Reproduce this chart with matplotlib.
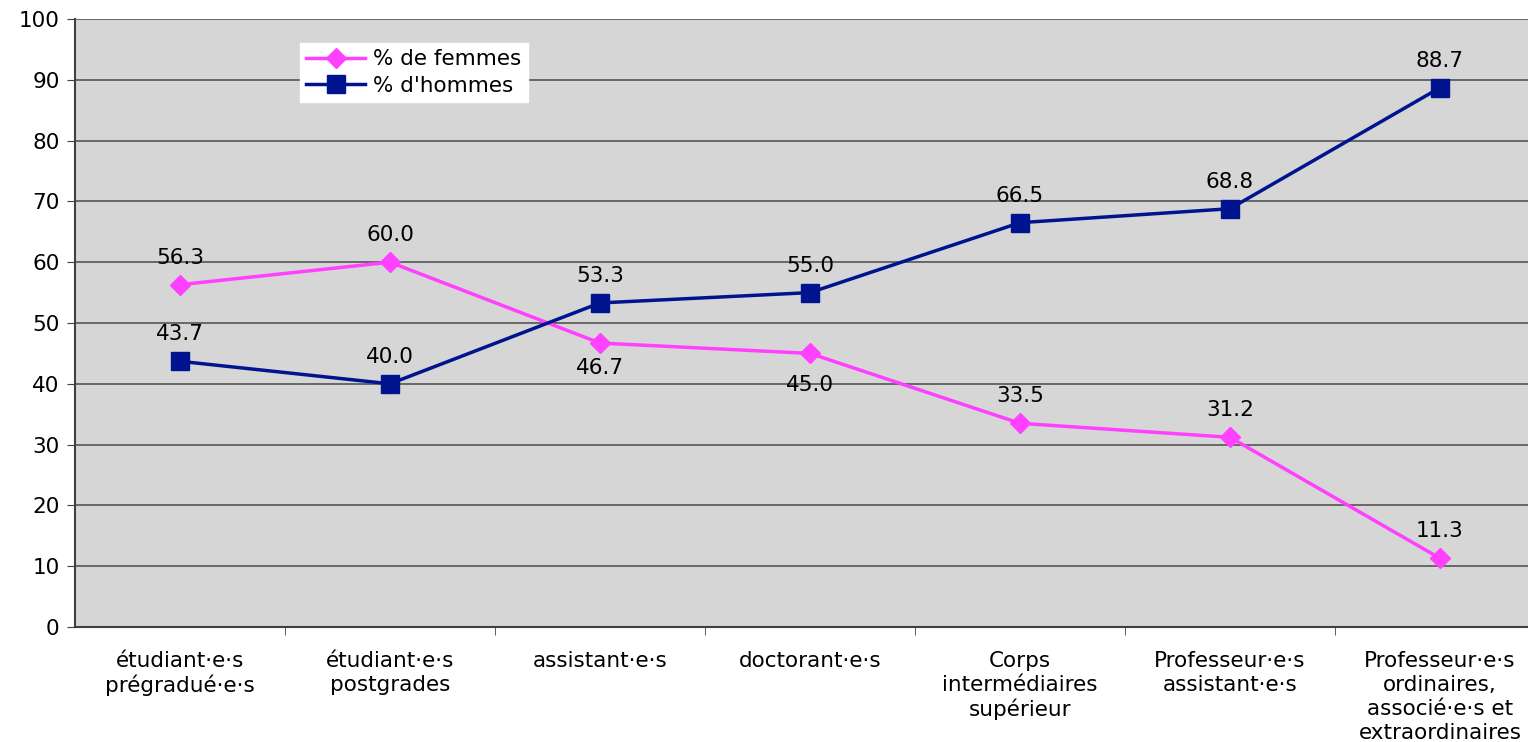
import numpy as np
import matplotlib.pyplot as plt
from matplotlib.ticker import FixedLocator

categories = ["étudiant·e·s\nprégradué·e·s", "étudiant·e·s\npostgrades", "assistant·e·s",
              "doctorant·e·s", "Corps\nintermédiaires\nsupérieur", "Professeur·e·s\nassistant·e·s",
              "Professeur·e·s\nordinaires,\nassocié·e·s et\nextraordinaires"]
femmes = [56.3, 60.0, 46.7, 45.0, 33.5, 31.2, 11.3]
hommes = [43.7, 40.0, 53.3, 55.0, 66.5, 68.8, 88.7]
# vertical label offset in pixels (negative = above the point)
femmes_off = [-27, -27, 25, 32, -27, -27, -27]
hommes_off = [-27, -27, -27, -27, -27, -27, -27]

plt.rcParams['font.family'] = ['DejaVu Sans']
pink = '#FF40FF'
navy = '#001490'
FS = 15.5

fig = plt.figure(figsize=(15.28, 7.42), dpi=100)
ax = fig.add_axes([75/1528, 115/742, 1470/1528, 608/742])
ax.set_facecolor('#D6D6D6')

x = np.arange(len(categories))
ax.plot(x, femmes, color=pink, lw=2.5, marker='D', ms=10, label='% de femmes', zorder=3)
ax.plot(x, hommes, color=navy, lw=2.5, marker='s', ms=12.5, label="% d'hommes", zorder=3)

px = 72 / fig.dpi
for vals, offs in [(femmes, femmes_off), (hommes, hommes_off)]:
    for xi, v, o in zip(x, vals, offs):
        ax.annotate(f"{v:.1f}", (xi, v), xytext=(0, -o * px), textcoords='offset points',
                    ha='center', va='center', fontsize=FS)

ax.set_xlim(-0.5, len(categories) - 0.5)
ax.set_ylim(0, 100)
ax.set_yticks(np.arange(0, 101, 10))
ax.yaxis.grid(True, color='#555555', lw=1.2)
ax.set_axisbelow(True)
ax.tick_params(axis='y', labelsize=FS, length=6, color='#404040', pad=5)

ax.set_xticks(x)
ax.set_xticklabels(categories, fontsize=FS, linespacing=1.25)
ax.tick_params(axis='x', which='major', length=0, pad=17)
ax.xaxis.set_minor_locator(FixedLocator(np.arange(0.5, len(categories) - 1, 1)))
ax.tick_params(axis='x', which='minor', length=6, color='#404040')

for s in ['top', 'right']:
    ax.spines[s].set_visible(False)
ax.spines['left'].set_color('#404040')
ax.spines['left'].set_linewidth(1.5)
ax.spines['bottom'].set_color('#404040')
ax.spines['bottom'].set_linewidth(1.5)

leg = ax.legend(loc='upper left', bbox_to_anchor=(225/1470, 1 - 24/608), fontsize=FS,
                frameon=True, fancybox=False, edgecolor='white', facecolor='white',
                framealpha=1, handlelength=2.7, handletextpad=0.4, borderpad=0.3,
                labelspacing=0.3, borderaxespad=0)

fig.savefig('out.png', dpi=100)
